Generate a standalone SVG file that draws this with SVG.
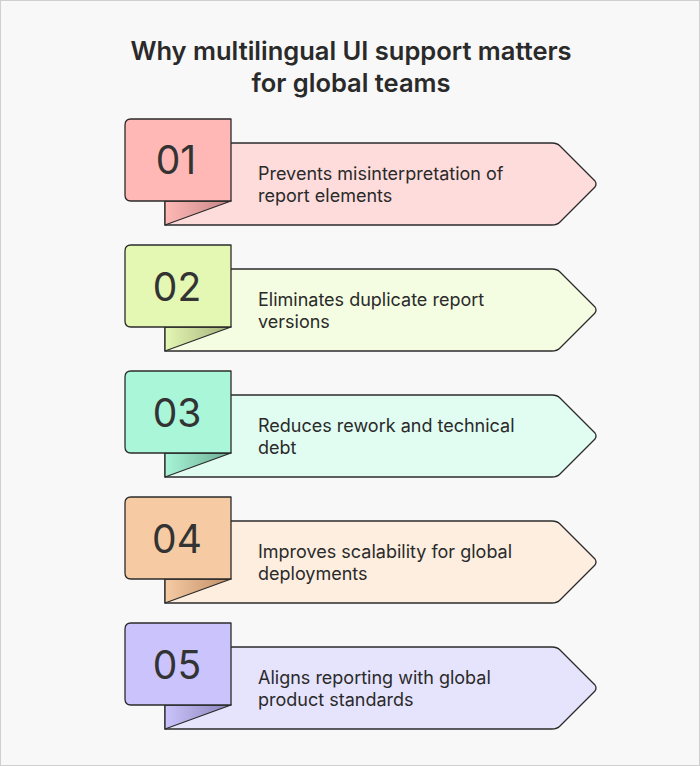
<svg xmlns="http://www.w3.org/2000/svg" width="700" height="766" viewBox="0 0 700 766">
<defs>
<style>
.title{font-family:Inter,"Liberation Sans",sans-serif;font-size:25.5px;font-weight:600;fill:#2a2a2a;text-anchor:middle}
.num{font-family:Inter,"Liberation Sans",sans-serif;font-size:39px;font-weight:400;fill:#333;text-anchor:middle}
.lbl{font-family:Inter,"Liberation Sans",sans-serif;font-size:18px;fill:#2a2a2a}
.edge{stroke:#2b2b2b;stroke-width:1.3;stroke-linejoin:round}
</style>
<linearGradient id="g1" x1="0" y1="0" x2="1" y2="0"><stop offset="0" stop-color="#ffb9b6"/><stop offset="1" stop-color="#c48585"/></linearGradient>
<linearGradient id="g2" x1="0" y1="0" x2="1" y2="0"><stop offset="0" stop-color="#e4f7b3"/><stop offset="1" stop-color="#a3b07a"/></linearGradient>
<linearGradient id="g3" x1="0" y1="0" x2="1" y2="0"><stop offset="0" stop-color="#a9f5d8"/><stop offset="1" stop-color="#6aab92"/></linearGradient>
<linearGradient id="g4" x1="0" y1="0" x2="1" y2="0"><stop offset="0" stop-color="#f6cba3"/><stop offset="1" stop-color="#c08e66"/></linearGradient>
<linearGradient id="g5" x1="0" y1="0" x2="1" y2="0"><stop offset="0" stop-color="#cbc4fc"/><stop offset="1" stop-color="#8a82b8"/></linearGradient>
<path id="banner" d="M165,24 H552 Q557,24 560,27 L595,62 Q597,65 595,68 L560,103 Q557,106 552,106 H165 Z"/>
<path id="box" d="M131,0 H231 V82 H131 Q125,82 125,76 V6 Q125,0 131,0 Z"/>
<path id="fold" d="M165,82 H231 L165,106 Z"/>
</defs>
<rect x="0.5" y="0.5" width="699" height="765" fill="#f8f8f8" stroke="#cfcfcf"/>
<text class="title" x="351" y="60">Why multilingual UI support matters</text>
<text class="title" x="351" y="92">for global teams</text>
<g id="connectors"/>
<g id="item1" transform="translate(0,119)">
<use href="#banner" fill="#ffdcdc" class="edge"/>
<use href="#fold" fill="url(#g1)" class="edge"/>
<use href="#box" fill="#ffb8b5" class="edge"/>
<text class="num" x="176" y="55">01</text>
<text class="lbl" x="258" y="61">Prevents misinterpretation of</text>
<text class="lbl" x="258" y="83">report elements</text>
</g>
<g id="item2" transform="translate(0,245)">
<use href="#banner" fill="#f4fde1" class="edge"/>
<use href="#fold" fill="url(#g2)" class="edge"/>
<use href="#box" fill="#e4f8b3" class="edge"/>
<text class="num" x="177" y="56">02</text>
<text class="lbl" x="258" y="61">Eliminates duplicate report</text>
<text class="lbl" x="258" y="83">versions</text>
</g>
<g id="item3" transform="translate(0,371)">
<use href="#banner" fill="#e1fcf1" class="edge"/>
<use href="#fold" fill="url(#g3)" class="edge"/>
<use href="#box" fill="#aaf6d9" class="edge"/>
<text class="num" x="177" y="56">03</text>
<text class="lbl" x="258" y="61">Reduces rework and technical</text>
<text class="lbl" x="258" y="83">debt</text>
</g>
<g id="item4" transform="translate(0,497)">
<use href="#banner" fill="#fdeee0" class="edge"/>
<use href="#fold" fill="url(#g4)" class="edge"/>
<use href="#box" fill="#f6cba3" class="edge"/>
<text class="num" x="177" y="56">04</text>
<text class="lbl" x="258" y="61">Improves scalability for global</text>
<text class="lbl" x="258" y="83">deployments</text>
</g>
<g id="item5" transform="translate(0,623)">
<use href="#banner" fill="#e6e3fd" class="edge"/>
<use href="#fold" fill="url(#g5)" class="edge"/>
<use href="#box" fill="#cbc4fc" class="edge"/>
<text class="num" x="177" y="56">05</text>
<text class="lbl" x="258" y="61">Aligns reporting with global</text>
<text class="lbl" x="258" y="83">product standards</text>
</g>
</svg>
